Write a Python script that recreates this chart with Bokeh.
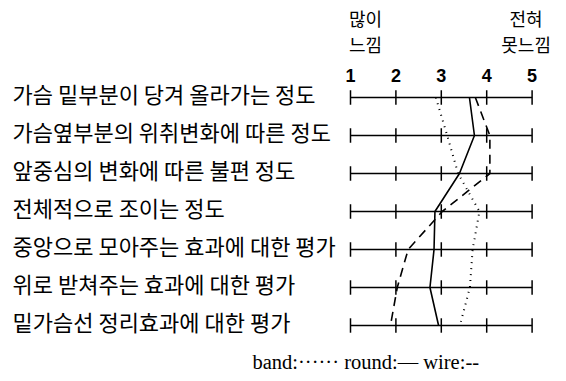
from bokeh.plotting import figure
from bokeh.models import Range1d
from bokeh.core.properties import value
from bokeh.embed import file_html
from bokeh.resources import INLINE

# ---- data ----
items = [
    "가슴 밑부분이 당겨 올라가는 정도",
    "가슴옆부분의 위취변화에 따른 정도",
    "앞중심의 변화에 따른 불편 정도",
    "전체적으로 조이는 정도",
    "중앙으로 모아주는 효과에 대한 평가",
    "위로 받쳐주는 효과에 대한 평가",
    "밑가슴선 정리효과에 대한 평가",
]
scale_ticks = [1, 2, 3, 4, 5]
band = [2.88, 3.13, 3.37, 3.84, 3.69, 3.63, 3.41]
round_ = [3.62, 3.73, 3.40, 2.86, 2.84, 2.75, 2.94]
wire = [3.75, 4.07, 4.07, 3.02, 2.27, 2.03, 1.88]
left_anchor = ["많이", "느낌"]
right_anchor = ["전혀", "못느낌"]
legend_text = "band:······ round:— wire:--"

W, H = 558, 373
px_per_x = 45.4
px_per_row = 38.0
x1_px = 350.0       # px where scale value 1 sits
row0_px = 97.0      # px (from top) of first row

x_start = 1 - x1_px / px_per_x
x_end = x_start + W / px_per_x
y_top = -row0_px / px_per_row
y_bot = y_top + H / px_per_row

p = figure(width=W, height=H, output_backend="svg", toolbar_location=None,
           x_range=Range1d(x_start, x_end), y_range=Range1d(y_bot, y_top),
           min_border=0, outline_line_color=None)
p.axis.visible = False
p.grid.visible = False
p.background_fill_color = "white"

rows = list(range(len(items)))

# scale lines
p.segment(x0=[scale_ticks[0]] * len(rows), x1=[scale_ticks[-1]] * len(rows),
          y0=rows, y1=rows, line_color="black", line_width=1.5)
# tick marks
tx, ty0, ty1 = [], [], []
for r in rows:
    for t in scale_ticks:
        tx.append(t)
        ty0.append(r - 0.19)
        ty1.append(r + 0.19)
p.segment(x0=tx, x1=tx, y0=ty0, y1=ty1, line_color="black", line_width=1.5)

# profiles
p.line(band, rows, line_color="black", line_width=2, line_dash="1 5")
p.line(round_, rows, line_color="black", line_width=1.6)
p.line(wire, rows, line_color="black", line_width=1.6, line_dash="9 6")

# row labels
p.text(x=[x_start] * len(rows), y=rows, text=items, x_offset=12, y_offset=-5,
       text_font=value("Noto Sans CJK KR"), text_font_size="22px",
       text_align="left", text_baseline="middle", text_color="black")

# scale numbers
p.text(x=scale_ticks, y=[-0.58] * 5, text=[str(t) for t in scale_ticks],
       text_font=value("Liberation Sans"), text_font_style="bold",
       text_font_size="18px", text_align="center", text_baseline="middle",
       text_color="black")

# anchor labels
p.text(x=[scale_ticks[0]] * 2, y=[-2.08, -1.42], text=left_anchor, x_offset=15,
       text_font=value("Noto Sans CJK KR"), text_font_size="18px",
       text_align="center", text_baseline="middle", text_color="black")
p.text(x=[scale_ticks[-1]] * 2, y=[-2.08, -1.42], text=right_anchor, x_offset=-6,
       text_font=value("Noto Sans CJK KR"), text_font_size="18px",
       text_align="center", text_baseline="middle", text_color="black")

# legend text
p.text(x=[scale_ticks[0]], y=[6.97], text=[legend_text], x_offset=-98,
       text_font=value("Liberation Serif"), text_font_size="20.5px",
       text_align="left", text_baseline="middle", text_color="black")

open("out.html", "w").write(file_html(p, INLINE))
